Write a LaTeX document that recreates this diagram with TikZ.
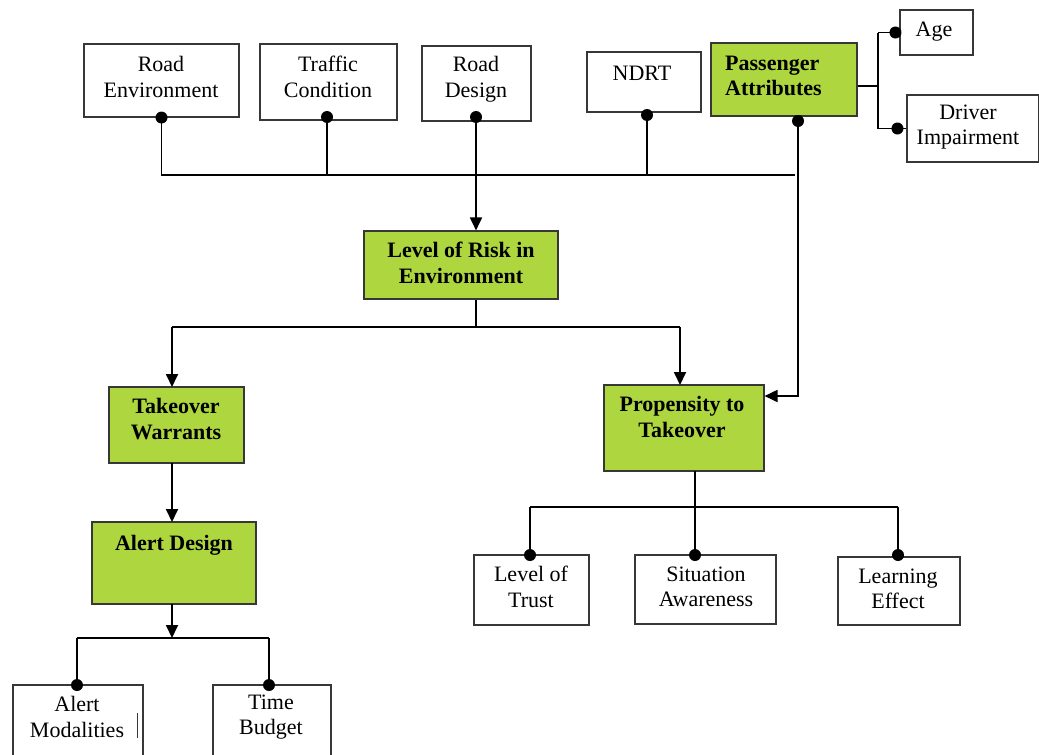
\documentclass[tikz,border=0pt]{standalone}
\usepackage{fontspec}
\setmainfont{Liberation Serif}
\usetikzlibrary{arrows.meta,calc}
\definecolor{leaf}{RGB}{174,214,62}
\definecolor{edge}{RGB}{55,55,55}
\tikzset{
  wbox/.style={draw=edge, line width=1.1pt, fill=white, rectangle, inner sep=0pt},
  gbox/.style={draw=edge, line width=1.1pt, fill=leaf, rectangle, inner sep=0pt},
  txt/.style={align=center, inner sep=0pt, font=\fontsize{22}{25.5}\selectfont},
  btxt/.style={align=center, inner sep=0pt, font=\fontsize{22}{25.5}\selectfont\bfseries},
  link/.style={line width=1.8pt, black},
  arr/.style={link, -{Triangle[length=13pt,width=12pt]}},
  knob/.style={fill=black}
}
\newcommand\boxat[7]{% style, name, cx, cy, w, h
  \node[#1, minimum width=#5pt, minimum height=#6pt] (#2) at (#3,#4) {#7};}
\begin{document}
\begin{tikzpicture}[x=1pt,y=-1pt]
\useasboundingbox (0,0) rectangle (1039,755);
\clip (0,0) rectangle (1039,755);
\fill[white] (0,0) rectangle (1039,755);

% ---- factor boxes on top
\boxat{wbox}{re}{161.5}{80.5}{155}{73}{}
\boxat{wbox}{tc}{328.5}{82}{137}{76}{}
\boxat{wbox}{rd}{476.5}{83.5}{109}{75}{}
\boxat{wbox}{nd}{644}{82}{114}{60}{}
\boxat{gbox}{pa}{784}{79.5}{146}{73}{}
\boxat{wbox}{age}{936.5}{32.5}{73}{45}{}
\boxat{wbox}{di}{973}{128.5}{132}{67}{}
\node[txt] (re-t) at (161,77) {Road\\Environment};
\node[txt] (tc-t) at (328,77) {Traffic\\Condition};
\node[txt] (rd-t) at (476,79) {Road\\Design};
\node[txt] (nd-t) at (642,73) {NDRT};
\node[btxt, align=left, anchor=west] (pa-t) at (725,76) {Passenger\\Attributes};
\node[txt] (age-t) at (934,32) {Age};
\node[txt] (di-t) at (968,127) {Driver\\Impairment};

% ---- central chain
\boxat{gbox}{lr}{461}{265}{194}{68}{}
\node[btxt] (lr-t) at (461,263) {Level of Risk in\\Environment};
\boxat{gbox}{tw}{176.5}{425}{135}{76}{}
\node[btxt] (tw-t) at (176,419) {Takeover\\Warrants};
\boxat{gbox}{pt}{684}{428}{160}{86}{}
\node[btxt] (pt-t) at (682,417) {Propensity to\\Takeover};
\boxat{gbox}{ad}{174}{563}{164}{82}{}
\node[btxt] (ad-t) at (174,545) {Alert Design};

% ---- leaves at the bottom
\boxat{wbox}{am}{78}{725}{130}{80}{}
\boxat{wbox}{tb}{272}{725}{118}{80}{}
\boxat{wbox}{lt}{531.5}{590}{115}{70}{}
\boxat{wbox}{sa}{705.5}{589.5}{141}{69}{}
\boxat{wbox}{le}{899}{591}{122}{68}{}
\node[txt] (am-t) at (77,717) {Alert\\Modalities};
\draw[edge, line width=0.6pt] (137,713) -- (137,738);
\node[txt] (tb-t) at (271,717) {Time\\Budget};
\node[txt] (lt-t) at (531,587) {Level of\\Trust};
\node[txt] (sa-t) at (706,587) {Situation\\Awareness};
\node[txt] (le-t) at (898,589) {Learning\\Effect};

% ---- junction points
\coordinate (busL) at (161,175);
\coordinate (busR) at (795,175);
\coordinate (paD) at (798,121);
\coordinate (split) at (476,327);
\coordinate (brk) at (878,86);
\coordinate (adSplit) at (172,638);
\coordinate (ptSplit) at (695,507);

% top bus
\draw[link] (busL) -- (busR);
\draw[link] (re.south) -- (re.south |- busL);
\draw[link] (327,117) coordinate (tcD) -- (tcD |- busL);
\draw[link] (647,115) coordinate (ndD) -- (ndD |- busL);
\fill[knob] (re.south) circle (6);
\fill[knob] (tcD) circle (6);
\fill[knob] (ndD) circle (6);
\fill[knob] (476,117) coordinate (rdD) circle (6);
\draw[arr] (rdD) -- (rdD |- lr.north);

% passenger attributes
\fill[knob] (paD) circle (6);
\draw[arr] (paD) |- (pt.east |- 0,396);
\draw[link] (pa.east |- brk) -- (brk);
\draw[link] (brk |- age.west) -- (brk |- di.west);
\draw[link] (brk |- age.west) -- (age.west);
\draw[link] (brk |- di.west) -- (di.west);
\fill[knob] ($(age.west)+(-4,0)$) circle (6);
\fill[knob] ($(di.west)+(-9,0)$) circle (6);

% risk splits into the two branches
\draw[link] (split |- lr.south) -- (split);
\draw[link] (172,327) -- (680,327);
\draw[arr] (172,327) -- (172,387);
\draw[arr] (680,327) -- (680,385);

% warrants to alert design
\draw[arr] (172,463) -- (172,522);
\draw[arr] (172,604) -- (adSplit);
\draw[link] (77,638) -- (269,638);
\draw[link] (77,638) -- (77,685);
\draw[link] (269,638) -- (269,685);
\fill[knob] (77,685) circle (6);
\fill[knob] (269,685) circle (6);

% propensity to its factors
\draw[link] (695,471) -- (695,555);
\draw[link] (530,507) -- (898,507);
\draw[link] (530,507) -- (530,555);
\draw[link] (898,507) -- (898,555);
\fill[knob] (530,555) circle (6);
\fill[knob] (695,555) circle (6);
\fill[knob] (898,555) circle (6);
\end{tikzpicture}
\end{document}
